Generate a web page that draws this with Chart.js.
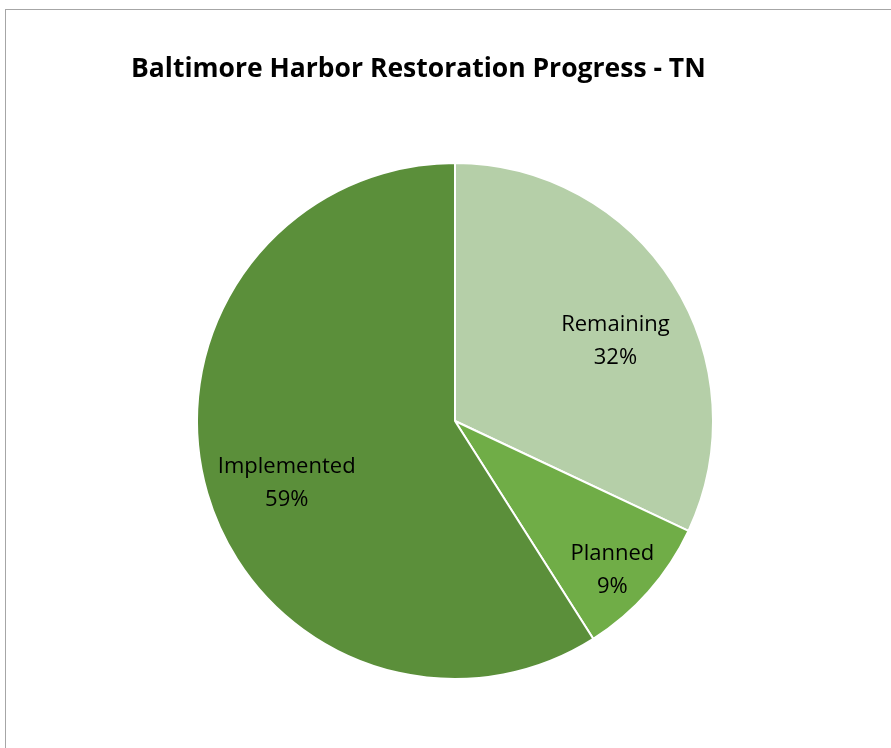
<!DOCTYPE html>
<html>
<head>
<meta charset="utf-8">
<script src="https://cdn.jsdelivr.net/npm/chart.js@4/dist/chart.umd.min.js"></script>
<style>
  html, body { margin: 0; padding: 0; background: #fff; overflow: hidden; }
  #frame { position: absolute; left: 5px; top: 9px; width: 2000px; height: 2000px; border: 1px solid #a6a6a6; }
  #wrap { position: absolute; left: 0; top: 0; width: 891px; height: 748px; }
</style>
</head>
<body>
<div id="frame"></div>
<div id="wrap"><canvas id="pieChart" width="891" height="748"></canvas></div>
<script>
const categories = ['Remaining', 'Planned', 'Implemented'];
const shares = [32, 9, 59];
const sliceColors = ['#b5cfa8', '#70ad47', '#5b8f3a'];

// where each label block sits: fraction of radius, and a small turn off the slice middle (degrees)
const labelSpots = [
  { r: 0.696, turn: 5.7 },
  { r: 0.838, turn: 1.9 },
  { r: 0.695, turn: -4 }
];

const sliceLabels = {
  id: 'sliceLabels',
  afterDatasetsDraw(chart) {
    const ctx = chart.ctx;
    const meta = chart.getDatasetMeta(0);
    ctx.save();
    ctx.font = '22px "Open Sans"';
    ctx.fillStyle = '#000';
    ctx.textAlign = 'center';
    ctx.textBaseline = 'middle';
    meta.data.forEach((arc, i) => {
      const p = arc.getProps(['x', 'y', 'startAngle', 'endAngle', 'outerRadius'], true);
      const spot = labelSpots[i];
      const mid = (p.startAngle + p.endAngle) / 2 + spot.turn * Math.PI / 180;
      const r = p.outerRadius * spot.r;
      const cx = p.x + Math.cos(mid) * r;
      const cy = p.y + Math.sin(mid) * r;
      ctx.fillText(categories[i], cx, cy - 16);
      ctx.fillText(shares[i] + '%', cx, cy + 17);
    });
    ctx.restore();
  }
};

const pieChart = document.getElementById('pieChart').getContext('2d');
new Chart(pieChart, {
  type: 'pie',
  data: {
    labels: categories,
    datasets: [{
      data: shares,
      backgroundColor: sliceColors,
      borderColor: '#ffffff',
      borderWidth: 2
    }]
  },
  options: {
    responsive: false,
    animation: false,
    layout: {
      padding: { left: 131, right: 112, top: 0, bottom: 68 }
    },
    plugins: {
      legend: { display: false },
      tooltip: { enabled: false },
      title: {
        display: true,
        text: 'Baltimore Harbor Restoration Progress - TN',
        align: 'start',
        color: '#000',
        font: { family: 'Open Sans', size: 26.5, weight: 'bold', lineHeight: 1.2 },
        padding: { top: 54, bottom: 76.2 }
      }
    }
  },
  plugins: [sliceLabels]
});
</script>
</body>
</html>
